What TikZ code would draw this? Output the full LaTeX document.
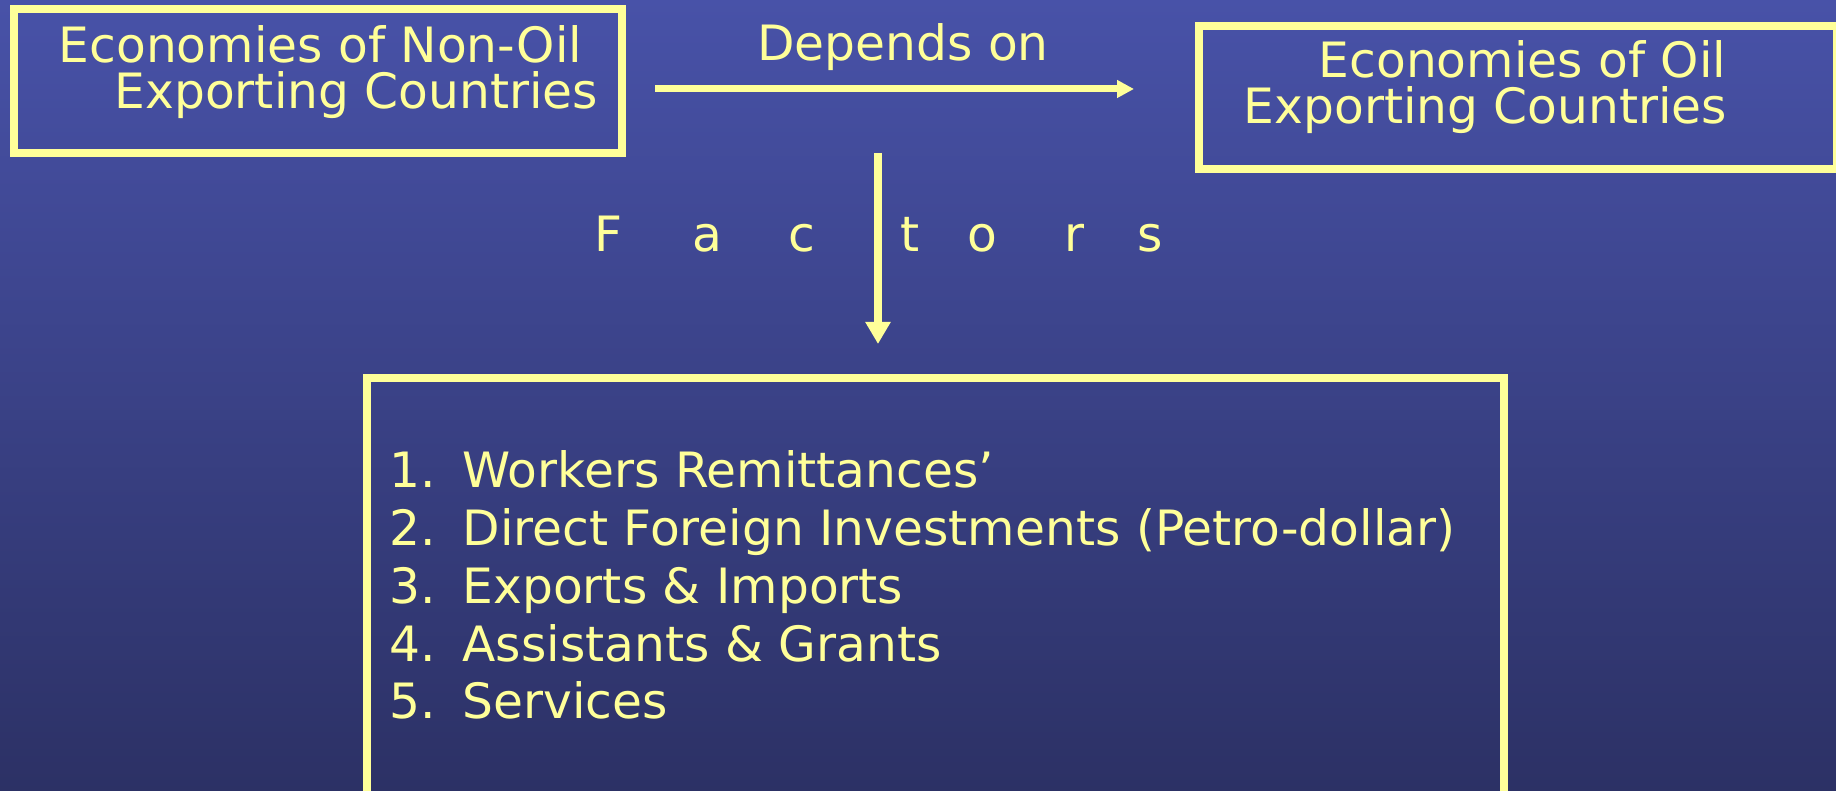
\documentclass[tikz,border=0pt]{standalone}
\usepackage{fontspec}
\setmainfont{DejaVu Sans}
\usetikzlibrary{arrows.meta,calc}
\definecolor{slidetop}{RGB}{72,82,168}
\definecolor{slidebottom}{RGB}{44,49,101}
\definecolor{chalk}{RGB}{255,255,153}
\tikzset{
  panel/.style={draw=chalk,line width=0.08cm,inner sep=0,outer sep=0},
  words/.style={text=chalk,inner sep=0,font=\fontsize{13.85pt}{13.1pt}\selectfont},
  flow/.style={draw=chalk,line width=0.07cm,-{Triangle[length=0.17cm,width=0.17cm]}},
  bigflow/.style={draw=chalk,line width=0.08cm,-{Triangle[length=0.22cm,width=0.24cm]}}
}

\begin{document}
\begin{tikzpicture}
%background
\useasboundingbox (0,0) rectangle (18.36,7.91);
\shade[top color=slidetop,bottom color=slidebottom] (0,0) rectangle (18.36,7.91);
%boxes
\node[panel,minimum width=6.08cm,minimum height=1.44cm] (nonoil) at (3.18,7.10){};
\node[panel,minimum width=6.38cm,minimum height=1.43cm] (oil) at (15.18,6.935){};
\node[panel,minimum width=11.37cm,minimum height=4.17cm] (factors) at (9.355,2.045){};
%box texts
\node[words,align=left,anchor=north west] (nonoil-text) at (0.58,7.66){Economies of Non-Oil\\\hspace*{0.56cm}Exporting Countries};
\node[words,align=left,anchor=north west] (oil-text) at (12.43,7.51){\hspace*{0.75cm}Economies of Oil\\Exporting Countries};
\node[words,anchor=base] (depends) at (9.03,7.30){Depends on};
%factors, spread out
\foreach \ch/\xx [count=\i] in {F/5.94,a/6.92,c/7.88,t/9.00,o/9.67,r/10.64,s/11.37}
  \node[words,anchor=base west] (factor-\i) at (\xx,5.39){\ch};
%list
\foreach \txt [count=\i] in {Workers Remittances’,Direct Foreign Investments (Petro-dollar),Exports \& Imports,Assistants \& Grants,Services}
  \node[words,anchor=base west] (item-\i) at (3.89,{3.03-0.5775*(\i-1)}){\makebox[0.73cm][l]{\i.}\txt};
%arrows
\draw[flow,shorten <=0.33cm,shorten >=0.65cm] (nonoil.east |- 0,7.02) -- (oil.west |- 0,7.02);
\coordinate (split) at (8.78,6.38);
\draw[bigflow,shorten >=0.34cm] (split) -- (split |- factors.north);
\end{tikzpicture}
\end{document}
